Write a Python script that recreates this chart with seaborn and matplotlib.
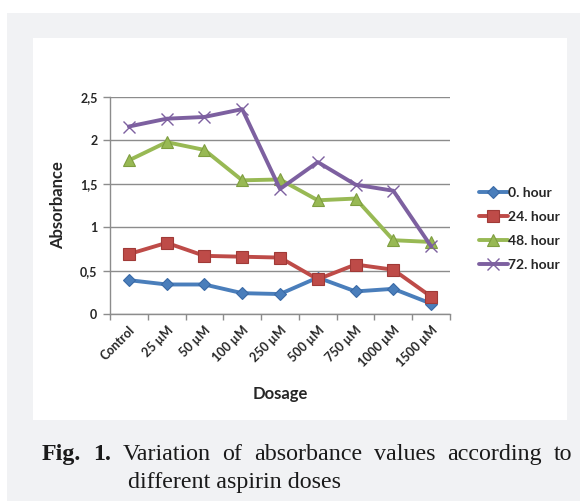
import matplotlib
matplotlib.use("Agg")
import matplotlib.pyplot as plt
import seaborn as sns
import pandas as pd
from matplotlib.patches import Rectangle
from matplotlib.ticker import FixedLocator

# ---------------- data ----------------
categories = ["Control", "25 µM", "50 µM", "100 µM", "250 µM",
              "500 µM", "750 µM", "1000 µM", "1500 µM"]
hour0 = [0.39, 0.34, 0.34, 0.24, 0.23, 0.42, 0.26, 0.29, 0.12]
hour24 = [0.69, 0.82, 0.67, 0.66, 0.65, 0.40, 0.57, 0.51, 0.20]
hour48 = [1.77, 1.98, 1.89, 1.54, 1.55, 1.31, 1.33, 0.85, 0.83]
hour72 = [2.16, 2.25, 2.27, 2.36, 1.44, 1.75, 1.49, 1.42, 0.78]
series_names = ["0. hour", "24. hour", "48. hour", "72. hour"]
yticks = [0, 0.5, 1, 1.5, 2, 2.5]
ytick_labels = ["0", "0,5", "1", "1,5", "2", "2,5"]
caption_bold = "Fig. 1."
caption_line1 = "Variation of absorbance values according to"
caption_line2 = "different aspirin doses"

series_values = [hour0, hour24, hour48, hour72]
rows = []
for name, vals in zip(series_names, series_values):
    for c, v in zip(categories, vals):
        rows.append({"Dosage": c, "Absorbance": v, "Series": name})
df = pd.DataFrame(rows)

styles = {
    "0. hour": dict(color="#4a7ebb", marker="D", ms=6.5, mec="#3a6aa6", mew=0.8),
    "24. hour": dict(color="#be4b48", marker="s", ms=8, mec="#a03a37", mew=0.8),
    "48. hour": dict(color="#98b954", marker="^", ms=8.5, mec="#7f9e40", mew=0.8),
    "72. hour": dict(color="#7d60a0", marker="x", ms=9, mec="#7d60a0", mew=1.0),
}

sns.set_theme(style="white")
plt.rcParams["font.family"] = ["Lato", "DejaVu Sans"]

W, H = 580, 501
fig = plt.figure(figsize=(W / 100, H / 100), dpi=100)
fig.patch.set_facecolor("white")

# background panels
fig.patches.append(Rectangle((7 / W, 0), 1 - 7 / W, 1 - 13 / H,
                             transform=fig.transFigure, facecolor="#f1f2f4",
                             edgecolor="none", zorder=-3))
fig.patches.append(Rectangle((33 / W, 1 - 420 / H), 534 / W, 382 / H,
                             transform=fig.transFigure, facecolor="white",
                             edgecolor="none", zorder=-2))

ax = fig.add_axes([110 / W, 1 - 314 / H, 340 / W, 217 / H])
ax.set_facecolor("none")

for name in series_names:
    st = styles[name]
    sub = df[df["Series"] == name]
    sns.lineplot(data=sub, x="Dosage", y="Absorbance", ax=ax, sort=False,
                 color=st["color"], lw=2.8, marker=st["marker"],
                 markersize=st["ms"], markeredgecolor=st["mec"],
                 markeredgewidth=st["mew"], label=name, zorder=3)

ax.set_xlim(-0.5, len(categories) - 0.5)
ax.set_ylim(0, 2.5)
ax.set_yticks(yticks)
ax.set_yticklabels(ytick_labels)
ax.set_xticks(range(len(categories)))
ax.set_xticklabels(categories, rotation=45, ha="right", rotation_mode="anchor",
                   fontsize=9, fontweight="bold")
ax.xaxis.set_minor_locator(FixedLocator([i - 0.5 for i in range(len(categories) + 1)]))
ax.tick_params(axis="x", which="major", length=0, pad=7)
ax.tick_params(axis="x", which="minor", length=4, width=1, color="#8c8c8c",
               direction="out", bottom=True)
ax.tick_params(axis="y", length=5, width=1, color="#8c8c8c", direction="out",
               left=True, pad=4, labelsize=9)
for lab in ax.get_yticklabels():
    lab.set_fontweight("bold")

ax.yaxis.grid(True, color="#8c8c8c", lw=1)
ax.set_axisbelow(True)
for side in ["top", "right"]:
    ax.spines[side].set_visible(False)
for side in ["left", "bottom"]:
    ax.spines[side].set_color("#8c8c8c")
    ax.spines[side].set_linewidth(1)

ax.set_xlabel("Dosage", fontsize=12, fontweight="bold", labelpad=12)
ax.set_ylabel("Absorbance", fontsize=12, fontweight="bold", labelpad=10)

ax.legend(loc="center left", bbox_to_anchor=(466 / W, 1 - 229 / H),
          bbox_transform=fig.transFigure, frameon=False,
          prop={"weight": "bold", "size": 10}, handlelength=2.1,
          handletextpad=0.05, labelspacing=0.85)

# caption (justified first line)
cap_font = dict(family="Liberation Serif", size=17.3, color="#1a1a1a")
fig.canvas.draw()
r = fig.canvas.get_renderer()
words = [(caption_bold.split()[0], "bold"), (caption_bold.split()[1], "bold")] + \
        [(w, "normal") for w in caption_line1.split()]
texts = []
for w, wt in words:
    t = fig.text(0, 1 - 460 / H, w, fontweight=wt, ha="left", va="baseline",
                 **cap_font)
    texts.append(t)
widths = [t.get_window_extent(r).width for t in texts]
x0, x1 = 42, 572
gap = (x1 - x0 - sum(widths)) / (len(texts) - 1)
x = x0
for t, wdt in zip(texts, widths):
    t.set_x(x / W)
    x += wdt + gap
fig.text(128 / W, 1 - 488 / H, caption_line2, ha="left", va="baseline",
         **cap_font)

fig.savefig("out.png", dpi=100)
